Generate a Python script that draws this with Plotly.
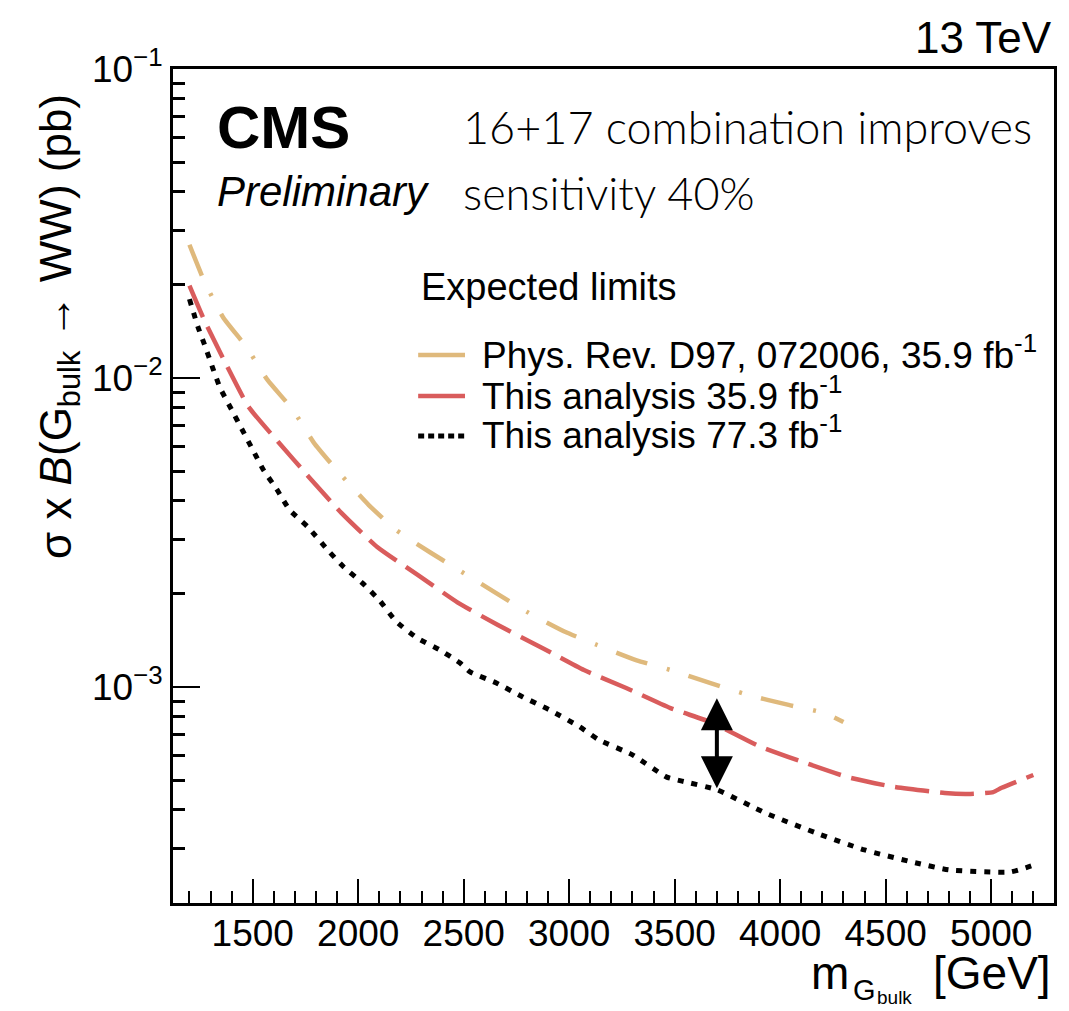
import math
import plotly.graph_objects as go

# ---------------- data ----------------
mass_prd = [1200, 1270, 1360, 1470, 1570, 1690, 1790, 1910, 2050, 2180, 2340, 2490,
            2650, 2800, 2980, 3130, 3320, 3490, 3670, 3850, 4040, 4210, 4300]
lim_prd = [0.0270, 0.0206, 0.0157, 0.0126, 0.00986, 0.00789, 0.00617, 0.00493, 0.00388,
           0.00322, 0.00273, 0.00236, 0.00202, 0.00175, 0.00151, 0.00137, 0.00122,
           0.00113, 0.00103, 0.000942, 0.000875, 0.000824, 0.00077]

mass_359 = [1200, 1270, 1370, 1480, 1620, 1770, 1920, 2090, 2280, 2470, 2660, 2870,
            3070, 3270, 3480, 3680, 3900, 4110, 4320, 4540, 4780, 4890, 5010, 5050, 5200]
lim_359 = [0.0199, 0.0154, 0.0112, 0.00807, 0.00622, 0.00475, 0.00366, 0.00284, 0.00231,
           0.00188, 0.00159, 0.00134, 0.001135, 0.000993, 0.000855, 0.000765, 0.000644,
           0.000571, 0.000511, 0.000475, 0.000454, 0.000451, 0.000457, 0.000472, 0.000519]

mass_773 = [1200, 1240, 1275, 1310, 1345, 1400, 1450, 1500, 1550, 1615, 1675, 1760,
            1865, 1930, 2020, 2100, 2180, 2280, 2385, 2480, 2530, 2655, 2780, 2905,
            3050, 3140, 3300, 3460, 3530, 3700, 3930, 4170, 4400, 4640, 4800, 5090, 5200]
lim_773 = [0.0180, 0.01466, 0.01262, 0.01079, 0.00930, 0.00789, 0.00680, 0.00586, 0.00505,
           0.00435, 0.00374, 0.00330, 0.00273, 0.00245, 0.00217, 0.00191, 0.00163, 0.00144,
           0.00132, 0.00120, 0.00112, 0.00103, 0.000929, 0.000844, 0.000743, 0.000675,
           0.000603, 0.000512, 0.000497, 0.000465, 0.000391, 0.000337, 0.000297, 0.000270,
           0.000256, 0.000252, 0.000265]

series_names = ["Phys. Rev. D97, 072006, 35.9 fb<sup>-1</sup>",
                "This analysis 35.9 fb<sup>-1</sup>",
                "This analysis 77.3 fb<sup>-1</sup>"]

x_ticks = [1500, 2000, 2500, 3000, 3500, 4000, 4500, 5000]
y_ticks = [1e-3, 1e-2, 1e-1]
y_ticktext = ["10<sup>−3</sup>", "10<sup>−2</sup>", "10<sup>−1</sup>"]
y_minor = [m * 10.0 ** e for e in (-4, -3, -2) for m in range(2, 10)]

arrow_mass = 3700
arrow_top = 0.00092
arrow_bottom = 0.000465

# ---------------- styling ----------------
W, H = 1069, 1011
L, R, T, B = 173, 12, 69, 108
FONT = "Liberation Sans, Arial, Helvetica, sans-serif"
NARROW = "Lato, Roboto, sans-serif"
TAN = "#dfb97c"
RED = "#d95c5c"
BLK = "#000000"
styles = [
    dict(color=TAN, width=4.5, dash="33px,20px,3px,20px"),
    dict(color=RED, width=4.5, dash="34px,11px"),
    dict(color=BLK, width=5, dash="6px,8px"),
]


def px_x(px):
    return (px - L) / (W - L - R)


def px_y(py):
    return (H - B - py) / (H - T - B)


fig = go.Figure()
for (xs, ys), name, st in zip([(mass_prd, lim_prd), (mass_359, lim_359), (mass_773, lim_773)],
                              series_names, styles):
    fig.add_trace(go.Scatter(x=xs, y=ys, mode="lines", name=name, line=st,
                             line_shape="spline", line_smoothing=0.5,
                             showlegend=False))

annotations = []
shapes = []

# legend (drawn by hand to match the ROOT layout)
annotations.append(dict(text="Expected limits", x=px_x(420), y=px_y(287), xref="paper",
                        yref="paper", xanchor="left", yanchor="middle", showarrow=False,
                        font=dict(family=FONT, size=38, color="black")))
row_y = [352, 393, 433]
for name, st, ry in zip(series_names, styles, row_y):
    annotations.append(dict(text=name, x=px_x(481), y=px_y(ry), xref="paper", yref="paper",
                            xanchor="left", yanchor="middle", showarrow=False,
                            font=dict(family=FONT, size=37, color="black")))
    shapes.append(dict(type="line", xref="paper", yref="paper", x0=px_x(419), x1=px_x(466),
                       y0=px_y(ry + 3), y1=px_y(ry + 3),
                       line=dict(color=st["color"], width=st["width"],
                                 dash="6px,4px" if st["color"] == BLK else "solid")))

# labels
annotations += [
    dict(text="13 TeV", x=1.0, y=px_y(37), xref="paper", yref="paper", xanchor="right",
         yanchor="middle", showarrow=False, font=dict(family=FONT, size=44, color="black")),
    dict(text="<b>CMS</b>", x=px_x(215), y=px_y(127), xref="paper", yref="paper",
         xanchor="left", yanchor="middle", showarrow=False,
         font=dict(family=FONT, size=60, color="black")),
    dict(text="<i>Preliminary</i>", x=px_x(215), y=px_y(191), xref="paper", yref="paper",
         xanchor="left", yanchor="middle", showarrow=False,
         font=dict(family=FONT, size=42, color="black")),
    dict(text="16+17 combination improves", x=px_x(462), y=px_y(127), xref="paper",
         yref="paper", xanchor="left", yanchor="middle", showarrow=False,
         font=dict(family=NARROW, size=45, weight=300, color="black")),
    dict(text="sensitivity 40%", x=px_x(462), y=px_y(193), xref="paper", yref="paper",
         xanchor="left", yanchor="middle", showarrow=False,
         font=dict(family=NARROW, size=45, weight=300, color="black")),
    # x-axis title
    dict(text="[GeV]", x=px_x(1056), y=px_y(973), xref="paper", yref="paper",
         xanchor="right", yanchor="middle", showarrow=False,
         font=dict(family=FONT, size=46, color="black")),
    dict(text="m", x=px_x(853), y=px_y(973), xref="paper", yref="paper",
         xanchor="right", yanchor="middle", showarrow=False,
         font=dict(family=FONT, size=46, color="black")),
    dict(text="G", x=px_x(853), y=px_y(990), xref="paper", yref="paper",
         xanchor="left", yanchor="middle", showarrow=False,
         font=dict(family=FONT, size=29, color="black")),
    dict(text="bulk", x=px_x(877), y=px_y(997), xref="paper", yref="paper",
         xanchor="left", yanchor="middle", showarrow=False,
         font=dict(family=FONT, size=19, color="black")),
    # y-axis title
    dict(text="σ x <i>B</i>(G<sub>bulk</sub> → WW) (pb)",
         x=px_x(28), y=px_y(92),
         xref="paper", yref="paper", xanchor="left", yanchor="top", textangle=-90,
         showarrow=False, font=dict(family=FONT, size=44, color="black")),
    # double arrow
    dict(text="", x=arrow_mass, y=math.log10(arrow_top), ax=arrow_mass,
         ay=math.log10(arrow_bottom), xref="x", yref="y", axref="x", ayref="y",
         showarrow=True, arrowhead=2, startarrowhead=2, arrowside="end+start",
         arrowsize=1.6, startarrowsize=1.6, arrowwidth=4, arrowcolor="black"),
]

fig.update_layout(
    width=W, height=H, autosize=False,
    margin=dict(l=L, r=R, t=T, b=B),
    paper_bgcolor="white", plot_bgcolor="white",
    showlegend=False,
    annotations=annotations, shapes=shapes,
    font=dict(family=FONT, color="black"),
    xaxis=dict(range=[1122, 5298], showgrid=False, zeroline=False,
               showline=True, linecolor="black", linewidth=3, mirror=True,
               tickmode="array", tickvals=x_ticks, ticks="inside", ticklen=24,
               tickwidth=2, tickcolor="black", ticklabelstandoff=-4,
               tickfont=dict(family=FONT, size=37, color="black"),
               minor=dict(ticks="inside", ticklen=12, tickwidth=2, tickcolor="black",
                          dtick=100, tick0=1000, showgrid=False)),
    yaxis=dict(type="log", range=[math.log10(2e-4), -1], showgrid=False, zeroline=False,
               showline=True, linecolor="black", linewidth=3, mirror=True,
               tickmode="array", tickvals=y_ticks, ticktext=y_ticktext,
               ticks="inside", ticklen=27, tickwidth=2, tickcolor="black",
               tickfont=dict(family=FONT, size=37, color="black"),
               minor=dict(ticks="inside", ticklen=12, tickwidth=3, tickcolor="black",
                          tickmode="array", tickvals=y_minor, showgrid=False)),
)

fig.write_html("out.html")
